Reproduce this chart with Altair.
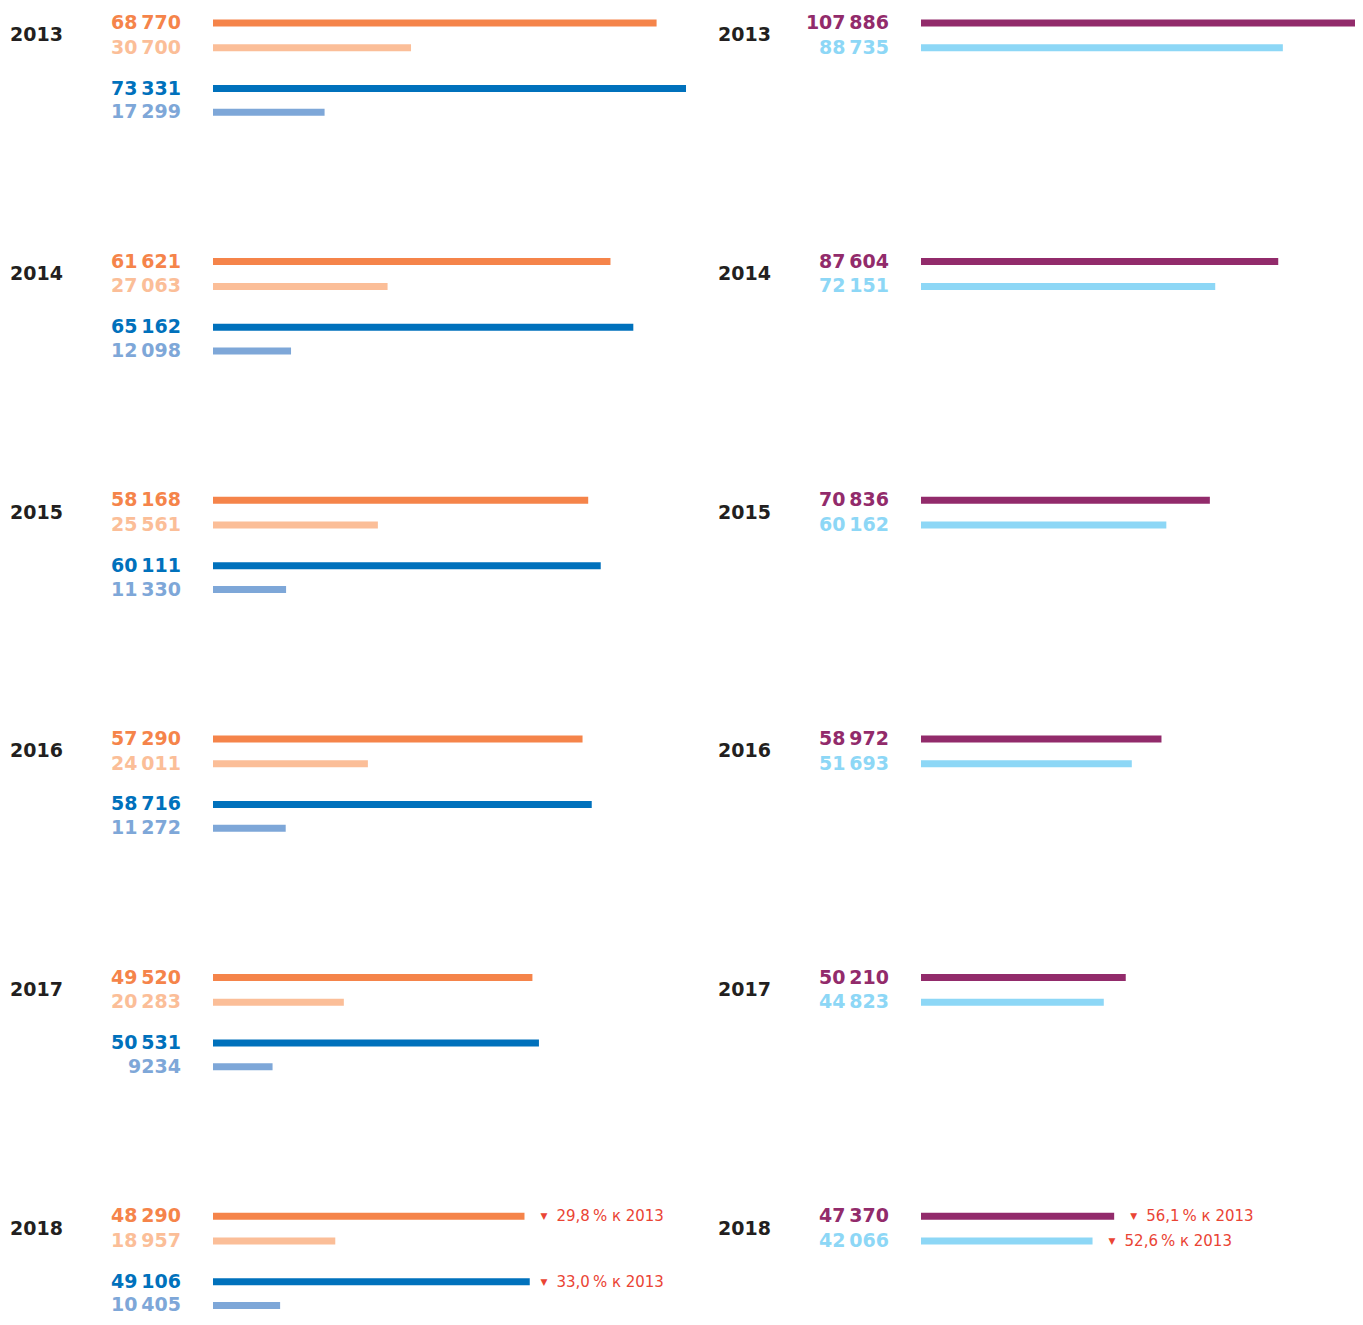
import altair as alt
import pandas as pd

# ---------------- data ----------------
years = [2013, 2014, 2015, 2016, 2017, 2018]

left_orange = [68770, 61621, 58168, 57290, 49520, 48290]
left_orange_light = [30700, 27063, 25561, 24011, 20283, 18957]
left_blue = [73331, 65162, 60111, 58716, 50531, 49106]
left_blue_light = [17299, 12098, 11330, 11272, 9234, 10405]

right_purple = [107886, 87604, 70836, 58972, 50210, 47370]
right_cyan = [88735, 72151, 60162, 51693, 44823, 42066]

# annotations (2018 vs 2013)
ann_left_series = ["orange", "blue"]
ann_left_text = ["29,8\u2009% к 2013", "33,0\u2009% к 2013"]
ann_right_series = ["purple", "cyan"]
ann_right_text = ["56,1\u2009% к 2013", "52,6\u2009% к 2013"]

# ---------------- styles / layout ----------------
COLORS = {
    "orange": "#F5844A",
    "orange_light": "#FBBE98",
    "blue": "#0071BC",
    "blue_light": "#7EA7D8",
    "purple": "#922B6B",
    "cyan": "#8DD7F6",
}
RED = "#EA4434"
YEAR_COLOR = "#231F20"
YEAR_STEP = 240.4
OFFSETS = {"orange": 0, "orange_light": 25, "blue": 66, "blue_light": 90,
           "purple": 0, "cyan": 25}
FONT = "DejaVu Sans"
PLOT_H = 1307
Y_DOMAIN = [-15.1, 1301.6]


def fmt(v):
    return f"{v:,}".replace(",", "\u2009") if v >= 10000 else str(v)


def build(series_dict):
    rows = []
    for name, vals in series_dict.items():
        for k, (yr, v) in enumerate(zip(years, vals)):
            rows.append({"year": yr, "series": name, "value": v, "zero": 0,
                         "label": fmt(v), "color": COLORS[name],
                         "ypos": k * YEAR_STEP + OFFSETS[name]})
    return pd.DataFrame(rows)


def build_ann(ann_series, ann_text, anchors):
    rows = []
    k = len(years) - 1
    for s, t, a in zip(ann_series, ann_text, anchors):
        rows.append({"anchor": a, "text": t, "tri": "▼",
                     "ypos": k * YEAR_STEP + OFFSETS[s]})
    return pd.DataFrame(rows)


def panel(df, ann, xmax, width, xrange):
    years_df = pd.DataFrame({"year": [str(y) for y in years], "zero": 0,
                             "ypos": [k * YEAR_STEP + 12.5 for k in range(len(years))]})
    xs = alt.Scale(domain=[0, xmax], range=xrange, nice=False, zero=True)
    ys = alt.Scale(domain=Y_DOMAIN, reverse=True, nice=False, zero=False)
    y = alt.Y("ypos:Q", scale=ys, axis=None)

    bars = alt.Chart(df).mark_rule(strokeWidth=7, clip=True).encode(
        x=alt.X("value:Q", scale=xs, axis=None),
        x2="zero:Q",
        y=y,
        color=alt.Color("color:N", scale=None),
    )
    labels = alt.Chart(df).mark_text(align="right", baseline="middle", font=FONT,
                                     fontSize=19, fontWeight="bold", dx=-32).encode(
        x=alt.X("zero:Q", scale=xs, axis=None), y=y, text="label:N",
        color=alt.Color("color:N", scale=None),
    )
    yr = alt.Chart(years_df).mark_text(align="left", baseline="middle", font=FONT,
                                       fontSize=19, fontWeight="bold", dx=-203,
                                       color=YEAR_COLOR).encode(
        x=alt.X("zero:Q", scale=xs, axis=None), y=y, text="year:N",
    )
    tri = alt.Chart(ann).mark_text(align="left", baseline="middle", font=FONT,
                                   fontSize=9, dx=16, color=RED).encode(
        x=alt.X("anchor:Q", scale=xs, axis=None), y=y, text="tri:N",
    )
    txt = alt.Chart(ann).mark_text(align="left", baseline="middle", font=FONT,
                                   fontSize=15, dx=32, color=RED).encode(
        x=alt.X("anchor:Q", scale=xs, axis=None), y=y, text="text:N",
    )
    return alt.layer(bars, labels, yr, tri, txt).properties(width=width, height=PLOT_H)


left_df = build({"orange": left_orange, "orange_light": left_orange_light,
                 "blue": left_blue, "blue_light": left_blue_light})
right_df = build({"purple": right_purple, "cyan": right_cyan})

left_ann = build_ann(ann_left_series, ann_left_text,
                     [left_orange[-1], left_orange[-1]])
right_ann = build_ann(ann_right_series, ann_right_text,
                      [right_purple[-1], right_cyan[-1]])

chart = alt.hconcat(
    panel(left_df, left_ann, 75500, 692, [205, 692]),
    panel(right_df, right_ann, 107900, 655, [221, 661]),
    spacing=0,
    bounds="flush",
).properties(
    padding=0,
    background="white",
).configure_view(stroke=None)

chart.save("out.html", embed_options={"renderer": "svg", "actions": False})
